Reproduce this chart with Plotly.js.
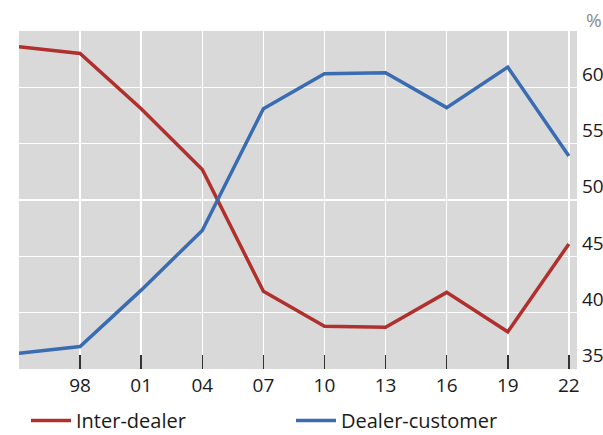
<!DOCTYPE html>
<html>
<head>
<meta charset="utf-8">
<script src="https://cdn.plot.ly/plotly-3.0.1.min.js"></script>
<style>html,body{margin:0;padding:0;background:#fff;}#chart{width:603px;height:435px;}</style>
</head>
<body>
<div id="chart"></div>
<script>
const years = [1995, 1998, 2001, 2004, 2007, 2010, 2013, 2016, 2019, 2022];
const interDealer = [63.6, 63.0, 58.1, 52.7, 41.9, 38.8, 38.7, 41.8, 38.3, 46.1];
const dealerCustomer = [36.4, 37.0, 42.0, 47.3, 58.1, 61.2, 61.3, 58.2, 61.8, 53.9];
const xTickVals = [1995, 1998, 2001, 2004, 2007, 2010, 2013, 2016, 2019, 2022];
const xTickText = ["", "98", "01", "04", "07", "10", "13", "16", "19", "22"];
const yTickVals = [35, 40, 45, 50, 55, 60];
const yTickText = ["35", "40", "45", "50", "55", "60"];
const seriesNames = ["Inter-dealer", "Dealer-customer"];
const unitLabel = "%";

const font = "Open Sans, Noto Sans, sans-serif";
const traces = [
  {x: years, y: interDealer, name: seriesNames[0], type: 'scatter', mode: 'lines',
   line: {color: '#b0302d', width: 3.5}},
  {x: years, y: dealerCustomer, name: seriesNames[1], type: 'scatter', mode: 'lines',
   line: {color: '#3a6cb2', width: 3.5}}
];
const layout = {
  width: 603, height: 435,
  margin: {l: 19, r: 26, t: 31, b: 66},
  paper_bgcolor: '#ffffff',
  plot_bgcolor: '#d9d9d9',
  font: {family: font, size: 19, color: '#1a1a1a'},
  showlegend: true,
  legend: {orientation: 'h', xref: 'container', yref: 'container',
           x: 26 / 603, y: 1 - 420.5 / 435, xanchor: 'left', yanchor: 'middle',
           itemwidth: 40, entrywidth: 210, entrywidthmode: 'pixels',
           font: {size: 20, family: font}, bgcolor: 'rgba(0,0,0,0)'},
  xaxis: {
    range: [1995, 2022.4], tickmode: 'array', tickvals: xTickVals, ticktext: xTickText,
    ticks: 'inside', ticklen: 14, tickwidth: 1.5, tickcolor: '#333333',
    showgrid: true, gridcolor: '#ffffff', gridwidth: 1.5, zeroline: false,
    showline: false, fixedrange: true, tickfont: {size: 19, family: font},
    ticklabelstandoff: 3
  },
  yaxis: {
    range: [35, 65], side: 'right', tickmode: 'array', tickvals: yTickVals, ticktext: yTickText,
    ticks: '', showgrid: true, gridcolor: '#ffffff', gridwidth: 1.5, zeroline: false,
    showline: false, ticklabelposition: 'outside top', tickfont: {size: 19, family: font},
    ticklabelstandoff: 4
  },
  annotations: [{
    text: unitLabel, xref: 'paper', yref: 'paper', x: 1.012, y: 1.0, xanchor: 'left', yanchor: 'bottom',
    yshift: -4, showarrow: false, font: {size: 19, family: font, color: '#8a8a8a'}
  }]
};
Plotly.newPlot('chart', traces, layout, {displayModeBar: false, staticPlot: true});
</script>
</body>
</html>
